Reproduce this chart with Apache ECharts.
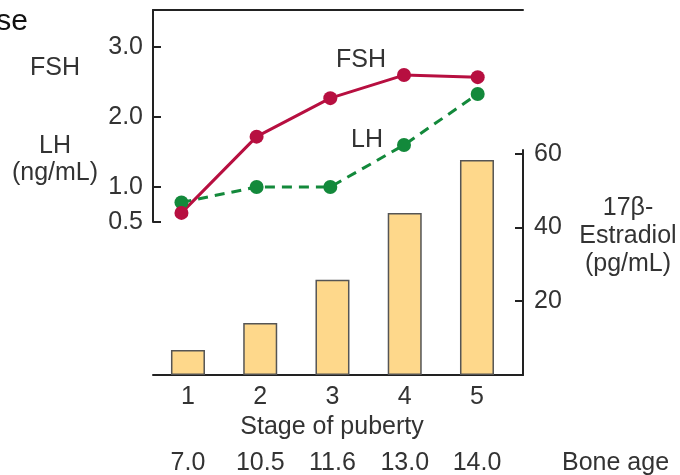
<!DOCTYPE html>
<html lang="en">
<head>
    <meta charset="UTF-8">
    <title>Stage of puberty</title>
    <script src="https://cdn.jsdelivr.net/npm/echarts@6/dist/echarts.min.js"></script>
    <style>
        html, body { margin: 0; padding: 0; background: #fff; }
    </style>
</head>
<body>
    <div id="main" style="width: 680px;height:475px;"></div>
    <script type="text/javascript">
        // data
        var stages = [1, 2, 3, 4, 5];
        var boneAge = ['7.0', '10.5', '11.6', '13.0', '14.0'];
        var lineX = [0.91, 1.95, 2.97, 3.99, 5.01];   // where the dots sit along the stage scale
        var fsh = [0.63, 1.72, 2.27, 2.60, 2.57];
        var lh = [0.78, 1.00, 1.00, 1.60, 2.33];
        var estradiol = [6.8, 14.1, 25.8, 43.9, 58.3];
        var hormoneTicks = [0.5, 1.0, 2.0, 3.0];
        var estradiolTicks = [20, 40, 60];

        var font = 'Liberation Sans, Arial, sans-serif';
        var textColor = '#333';
        var axisColor = '#222';

        function pairs(xs, ys) {
            return xs.map(function (x, i) { return [x, ys[i]]; });
        }

        // centred text label for the graphic layer
        function label(x, y, text, lineHeight) {
            return {
                type: 'text', x: x, y: y,
                style: {
                    text: text, fill: textColor, font: '25px ' + font,
                    align: 'center', verticalAlign: 'middle', lineHeight: lineHeight || 27
                }
            };
        }

        var myChart = echarts.init(document.getElementById('main'));
        var option = {
            animation: false,
            textStyle: { fontFamily: font },
            grid: [
                { left: 153, top: 10, width: 370, height: 212, outerBoundsMode: 'none' },
                { left: 153, top: 150, width: 370, height: 225, outerBoundsMode: 'none' }
            ],
            xAxis: [
                { // top frame line of the hormone panel
                    type: 'value', gridIndex: 0, position: 'top',
                    min: 0.516, max: 5.637,
                    axisLine: { show: true, lineStyle: { color: axisColor, width: 2 } },
                    axisTick: { show: false }, axisLabel: { show: false }, splitLine: { show: false }
                },
                { // stage of puberty
                    type: 'value', gridIndex: 1, position: 'bottom',
                    min: 0.516, max: 5.637,
                    axisLine: { show: true, lineStyle: { color: axisColor, width: 2 } },
                    axisTick: { show: false },
                    axisLabel: {
                        customValues: stages, margin: 10,
                        fontSize: 25, color: textColor, fontFamily: font,
                        formatter: function (v) { return String(v); }
                    },
                    splitLine: { show: false },
                    name: 'Stage of puberty', nameLocation: 'middle', nameGap: 40,
                    nameTextStyle: { fontSize: 25, color: textColor, fontFamily: font, padding: [0, 12, 0, 0] }
                },
                { // bone age row
                    type: 'value', gridIndex: 1, position: 'bottom', offset: 66,
                    min: 0.516, max: 5.637,
                    axisLine: { show: false }, axisTick: { show: false }, splitLine: { show: false },
                    axisLabel: {
                        customValues: stages, margin: 10,
                        fontSize: 25, color: textColor, fontFamily: font,
                        formatter: function (v) { return boneAge[Math.round(v) - 1]; }
                    }
                }
            ],
            yAxis: [
                { // FSH / LH
                    type: 'value', gridIndex: 0, position: 'left',
                    min: 0.5, max: 3.53,
                    axisLine: { show: true, lineStyle: { color: axisColor, width: 2 } },
                    axisTick: { show: true, inside: true, length: 8, customValues: hormoneTicks,
                        lineStyle: { color: axisColor, width: 2 } },
                    axisLabel: {
                        customValues: hormoneTicks, margin: 10,
                        fontSize: 25, color: textColor, fontFamily: font,
                        formatter: function (v) { return v.toFixed(1); }
                    },
                    splitLine: { show: false }
                },
                { // estradiol
                    type: 'value', gridIndex: 1, position: 'right',
                    min: 0, max: 61,
                    axisLine: { show: true, lineStyle: { color: axisColor, width: 2 } },
                    axisTick: { show: true, inside: true, length: 8, customValues: estradiolTicks,
                        lineStyle: { color: axisColor, width: 2 } },
                    axisLabel: {
                        customValues: estradiolTicks, margin: 11,
                        fontSize: 25, color: textColor, fontFamily: font
                    },
                    splitLine: { show: false }
                }
            ],
            series: [
                {
                    name: '17β-Estradiol', type: 'bar',
                    xAxisIndex: 1, yAxisIndex: 1,
                    data: pairs(stages, estradiol),
                    barWidth: 34,
                    itemStyle: { color: '#fed88b', borderColor: '#555', borderWidth: 1.5 }
                },
                {
                    name: 'LH', type: 'line',
                    xAxisIndex: 0, yAxisIndex: 0,
                    data: pairs(lineX, lh),
                    symbol: 'circle', symbolSize: 14,
                    lineStyle: { color: '#13893b', width: 3, type: [10, 7] },
                    itemStyle: { color: '#13893b' }
                },
                {
                    name: 'FSH', type: 'line',
                    xAxisIndex: 0, yAxisIndex: 0,
                    data: pairs(lineX, fsh),
                    symbol: 'circle', symbolSize: 14,
                    lineStyle: { color: '#b70f40', width: 3 },
                    itemStyle: { color: '#b70f40' }
                }
            ],
            graphic: [
                { type: 'text', x: 28, y: 22, style: { text: 'se', fill: '#111', font: '30px ' + font, align: 'right', verticalAlign: 'middle' } },
                label(55, 68, 'FSH'),
                label(55, 160, 'LH\n(ng/mL)', 27),
                label(361, 60, 'FSH'),
                label(367, 140, 'LH'),
                label(628, 236, '17β-\nEstradiol\n(pg/mL)', 28),
                { type: 'text', x: 562, y: 463, style: { text: 'Bone age', fill: textColor, font: '25px ' + font, verticalAlign: 'middle' } }
            ]
        };

        myChart.setOption(option);
    </script>
</body>
</html>
